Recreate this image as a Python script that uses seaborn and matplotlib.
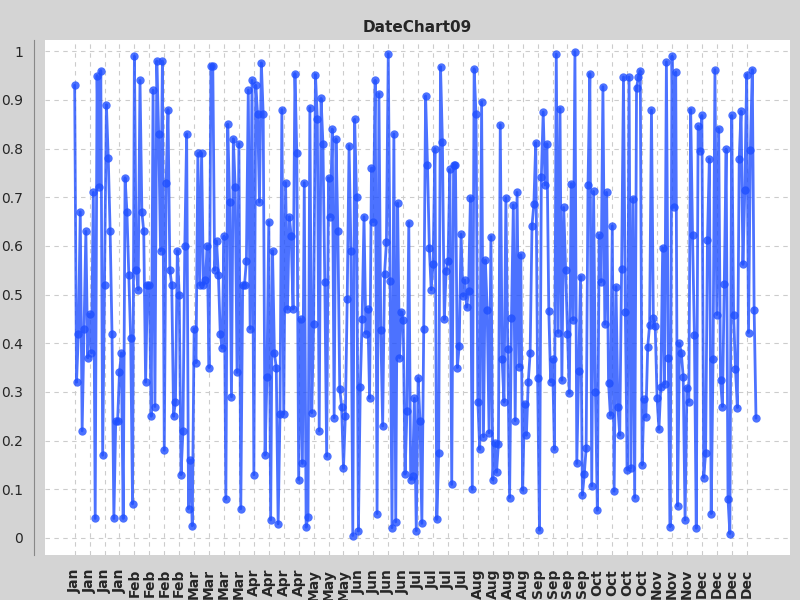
import matplotlib
matplotlib.use("Agg")
import matplotlib.pyplot as plt
import seaborn as sns
import pandas as pd
import numpy as np

seg1 = [0.93,0.32,0.42,0.67,0.22,0.43,0.63,0.37,0.46,0.38,0.71,0.04,0.95,0.72,0.96,0.17,0.52,0.89,0.78,0.63,
        0.42,0.04,0.24,0.24,0.34,0.38,0.04,0.74,0.67,0.54,0.41,0.07,0.99,0.55,0.51,0.94,0.67,0.63,0.32,0.52]
seg2 = [0.52,0.25,0.92,0.27,0.98,0.83,0.59,0.98,0.18,0.73,0.88,0.55,0.52,0.25,0.28,0.59,0.50,0.13,0.22,0.60,
        0.83,0.06,0.16,0.025,0.43,0.36,0.79,0.52,0.79,0.52,0.53,0.60,0.35,0.97,0.97,0.55,0.61,0.54,0.42,0.39,
        0.62,0.08,0.85,0.69,0.29,0.82,0.72,0.34,0.81,0.06,0.52,0.52,0.57,0.92,0.43,0.94,0.13]
seg3 = [0.93,0.87,0.69,0.976,0.87,0.17,0.33,0.65,0.037,0.59,0.38,0.35,0.029,0.255,0.88,0.255,0.73,0.47,0.66,0.62,
        0.47,0.954,0.79,0.12,0.45,0.153,0.73,0.022,0.044,0.884,0.257,0.44,0.952,0.86,0.22,0.903,0.81,0.525,0.168,0.74,
        0.66,0.84,0.247,0.82,0.63,0.307,0.27,0.143,0.25,0.49,0.806,0.59,0.005,0.86]
seg4 = [0.70,0.014,0.31,0.45,0.66,0.42,0.47,0.287,0.76,0.65,0.94,0.05,0.913,0.427,0.23,0.543,0.607,0.995,0.528,0.021,
        0.83,0.033,0.688,0.37,0.465,0.448,0.131,0.26,0.648,0.12,0.127,0.287,0.015,0.328,0.24,0.03,0.43,0.908,0.767,0.595,
        0.51,0.562,0.80,0.038,0.174,0.968,0.814,0.449,0.548,0.569,0.757,0.11]
seg5 = [0.767,0.766,0.35,0.394,0.624,0.497,0.53,0.474,0.508,0.699,0.1,0.964,0.87,0.28,0.182,0.896,0.208,0.571,0.468,0.216,
        0.619,0.119,0.196,0.135,0.194,0.849,0.367,0.279,0.699,0.389,0.083,0.451,0.684,0.241,0.71,0.352,0.582,0.098,0.276,0.211,
        0.321,0.38,0.641,0.686,0.812,0.329,0.016,0.741,0.875,0.725,0.81,0.467,0.321,0.367,0.182]
seg6 = [0.994,0.422,0.882,0.324,0.679,0.55,0.418,0.297,0.728,0.448,0.999,0.153,0.343,0.537,0.088,0.131,0.184,0.725,0.954,0.107,
        0.712,0.30,0.057,0.622,0.526,0.927,0.439,0.71,0.319,0.252,0.641,0.096,0.516,0.27,0.211,0.552,0.947,0.465,0.14,0.947,
        0.144,0.697,0.083,0.925,0.947,0.96,0.15,0.285,0.249,0.393,0.437,0.879]
seg7 = [0.451,0.435,0.287,0.223,0.31,0.596,0.316,0.978,0.369,0.023,0.99,0.679,0.957,0.066,0.40,0.379,0.331,0.037,0.309,0.28,
        0.88,0.622,0.417,0.02,0.846,0.795,0.868,0.124,0.174,0.612,0.779,0.05,0.367,0.962,0.459,0.841,0.324,0.27,0.521,0.799,
        0.08,0.009,0.868,0.459,0.348,0.268,0.779,0.877,0.562,0.714,0.952,0.422,0.798,0.962,0.469,0.246]
values = seg1 + seg2 + seg3 + seg4 + seg5 + seg6 + seg7

dates = pd.date_range("2024-01-01", periods=len(values), freq="D")
df = pd.DataFrame({"day": np.arange(len(values)), "value": values})
tick_days = list(range(0, len(values), 8))
tick_labels = [dates[d].strftime("%b") for d in tick_days]

sns.set_style("white")
fig = plt.figure(figsize=(8, 6), dpi=100, facecolor="#d4d4d4")
ax = fig.add_axes([0.056, 0.075, 0.931, 0.858])
ax.set_facecolor("white")
sns.lineplot(data=df, x="day", y="value", ax=ax, color="#1f4fff", alpha=0.8, linewidth=2,
             marker="o", markersize=6, markeredgewidth=0)
ax.set_xlim(-16, 383)
ax.set_ylim(-0.035, 1.0226)
ax.set_yticks(np.round(np.arange(0, 1.01, 0.1), 1))
ax.set_yticklabels(["0"] + [f"{v:.1f}" for v in np.arange(0.1, 0.95, 0.1)] + ["1"])
ax.set_xticks(tick_days)
ax.set_xticklabels(tick_labels)
for lbl in ax.get_xticklabels():
    lbl.set_rotation(90)
    lbl.set_fontweight("bold")
    lbl.set_fontsize(10)
ax.tick_params(axis="y", labelsize=10, length=4, color="#888888")
ax.tick_params(axis="x", length=4, color="#888888", pad=6)
ax.grid(True, color="#cccccc", linestyle=(0, (4, 4)), linewidth=0.8)
for s in ["top", "right", "bottom"]:
    ax.spines[s].set_visible(False)
ax.spines["left"].set_position(("outward", 8))
ax.spines["left"].set_color("#888888")
ax.set_xlabel("")
ax.set_ylabel("")
ax.set_title("DateChart09", fontweight="bold", fontsize=11)
fig.savefig("out.png", dpi=100, facecolor=fig.get_facecolor())
